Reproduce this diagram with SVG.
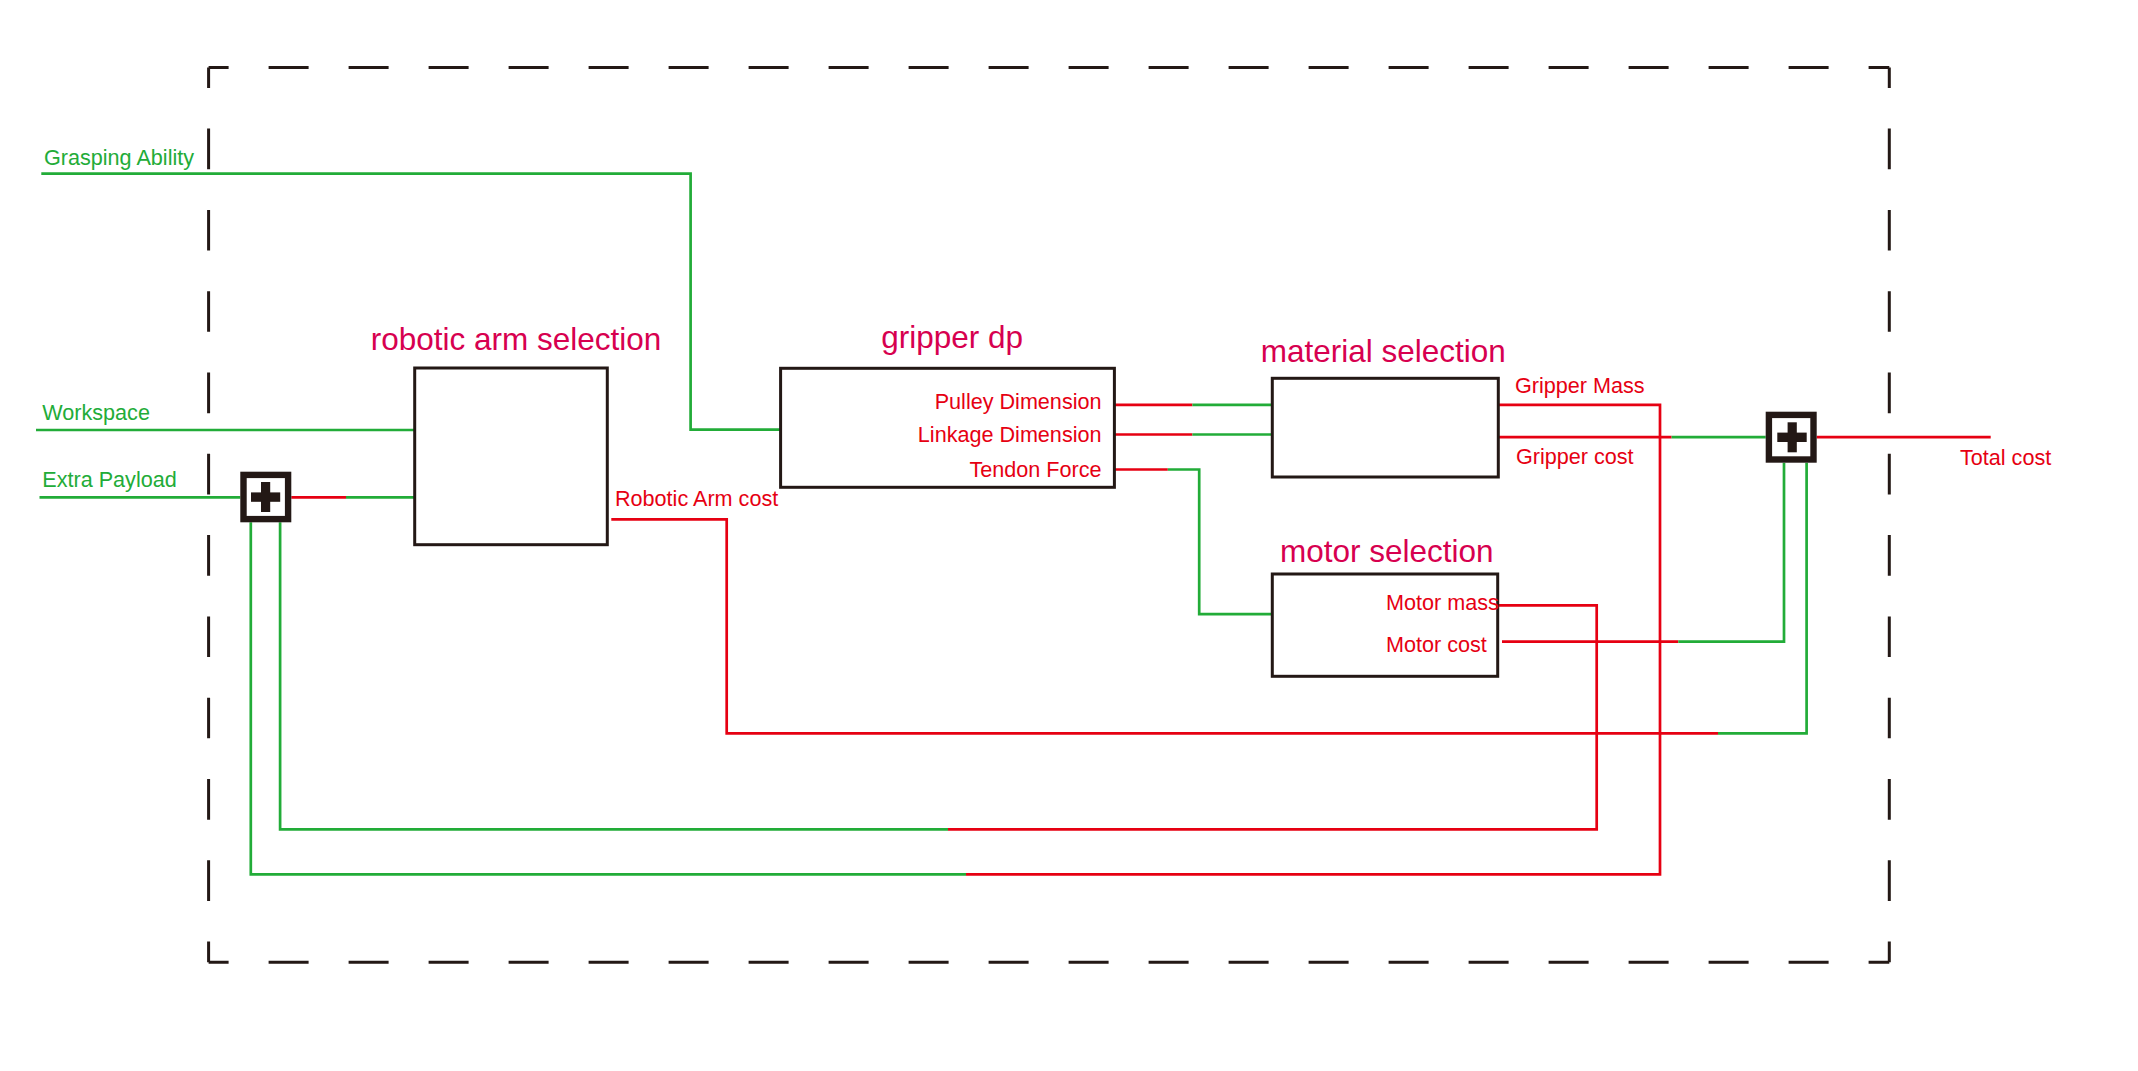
<svg xmlns="http://www.w3.org/2000/svg" width="2138" height="1071" viewBox="0 0 2138 1071">
<style>
  .frame { fill: none; stroke: #231815; stroke-width: 3; }
  .box { fill: #ffffff; stroke: #231815; stroke-width: 3; }
  .g { fill: none; stroke: #22ac38; stroke-width: 2.7; }
  .r { fill: none; stroke: #e60012; stroke-width: 2.7; }
  .title { font-family: "Liberation Sans", Arial, sans-serif; font-size: 31.5px; fill: #d7004f; }
  .lbl { font-family: "Liberation Sans", Arial, sans-serif; font-size: 21.6px; fill: #e60012; }
  .in { font-family: "Liberation Sans", Arial, sans-serif; font-size: 21.6px; fill: #22ac38; }
  .sumbox { fill: #ffffff; stroke: #231815; stroke-width: 6.4; }
  .plus { fill: #231815; }
</style>
<rect width="2138" height="1071" fill="#ffffff"/>

<g id="frame">
  <line class="frame" x1="208.6" y1="67.6" x2="1889.3" y2="67.6" stroke-dasharray="40 40" stroke-dashoffset="20"/>
  <line class="frame" x1="208.6" y1="962.2" x2="1889.3" y2="962.2" stroke-dasharray="40 40" stroke-dashoffset="20"/>
  <line class="frame" x1="208.6" y1="67.6" x2="208.6" y2="962.2" stroke-dasharray="40.65 40.65" stroke-dashoffset="20.3"/>
  <line class="frame" x1="1889.3" y1="67.6" x2="1889.3" y2="962.2" stroke-dasharray="40.65 40.65" stroke-dashoffset="20.3"/>
</g>

<g id="connectors">
  <!-- inputs -->
  <polyline class="g" points="41.3,173.7 690.6,173.7 690.6,429.6 780.6,429.6"/>
  <line class="g" x1="36" y1="430" x2="414.7" y2="430"/>
  <line class="g" x1="39.5" y1="497.3" x2="240.3" y2="497.3"/>
  <line class="r" x1="291.3" y1="497.3" x2="346" y2="497.3"/>
  <line class="g" x1="346" y1="497.3" x2="414.7" y2="497.3"/>
  <!-- robotic arm cost to sum2 -->
  <polyline class="r" points="611.3,519.3 726.7,519.3 726.7,733.3 1718,733.3"/>
  <polyline class="g" points="1718,733.3 1806.6,733.3 1806.6,462.7"/>
  <!-- gripper dp outputs -->
  <line class="r" x1="1114.7" y1="404.8" x2="1192.4" y2="404.8"/>
  <line class="g" x1="1192.4" y1="404.8" x2="1272.3" y2="404.8"/>
  <line class="r" x1="1114.7" y1="434.5" x2="1192.4" y2="434.5"/>
  <line class="g" x1="1192.4" y1="434.5" x2="1272.3" y2="434.5"/>
  <line class="r" x1="1114.7" y1="469.5" x2="1167.8" y2="469.5"/>
  <polyline class="g" points="1167.8,469.5 1199.2,469.5 1199.2,614.2 1272.3,614.2"/>
  <!-- gripper mass feedback -->
  <polyline class="r" points="1498.3,404.8 1660,404.8 1660,874.3 966,874.3"/>
  <polyline class="g" points="966,874.3 250.8,874.3 250.8,522.3"/>
  <!-- gripper cost -->
  <line class="r" x1="1498.3" y1="437.2" x2="1671.6" y2="437.2"/>
  <line class="g" x1="1671.6" y1="437.2" x2="1765.7" y2="437.2"/>
  <!-- total cost -->
  <line class="r" x1="1816.7" y1="437.2" x2="1990.7" y2="437.2"/>
  <!-- motor mass feedback -->
  <polyline class="r" points="1497.7,605.3 1596.7,605.3 1596.7,829.3 948,829.3"/>
  <polyline class="g" points="948,829.3 280.1,829.3 280.1,522.3"/>
  <!-- motor cost -->
  <line class="r" x1="1502" y1="641.7" x2="1678.3" y2="641.7"/>
  <polyline class="g" points="1678.3,641.7 1784,641.7 1784,462.7"/>
</g>

<g id="input-labels">
  <text class="in" x="44" y="165">Grasping Ability</text>
  <text class="in" x="42.3" y="420">Workspace</text>
  <text class="in" x="42.3" y="487.4">Extra Payload</text>
</g>

<g id="sum1">
  <rect class="sumbox" x="243.5" y="474.9" width="44.6" height="44.2"/>
  <rect class="plus" x="251" y="492.4" width="29.2" height="9.4"/>
  <rect class="plus" x="261" y="482" width="9.2" height="30"/>
</g>

<g id="robotic-arm-selection">
  <text class="title" x="370.7" y="350">robotic arm selection</text>
  <rect class="box" x="414.7" y="368" width="192.6" height="176.7"/>
  <text class="lbl" x="615" y="506">Robotic Arm cost</text>
</g>

<g id="gripper-dp">
  <text class="title" x="881.3" y="348.3">gripper dp</text>
  <rect class="box" x="780.6" y="368.3" width="333.8" height="119"/>
  <text class="lbl" x="1101.5" y="409" text-anchor="end">Pulley Dimension</text>
  <text class="lbl" x="1101.5" y="441.7" text-anchor="end">Linkage Dimension</text>
  <text class="lbl" x="1101.5" y="476.7" text-anchor="end">Tendon Force</text>
</g>

<g id="material-selection">
  <text class="title" x="1260.7" y="361.7">material selection</text>
  <rect class="box" x="1272.3" y="378.3" width="226" height="98.7"/>
  <text class="lbl" x="1515" y="392.7">Gripper Mass</text>
  <text class="lbl" x="1516" y="464.3">Gripper cost</text>
</g>

<g id="motor-selection">
  <text class="title" x="1280" y="561.7">motor selection</text>
  <rect class="box" x="1272.3" y="574" width="225.4" height="102.3"/>
  <text class="lbl" x="1386" y="609.5">Motor mass</text>
  <text class="lbl" x="1386" y="652.3">Motor cost</text>
</g>

<g id="sum2">
  <rect class="sumbox" x="1768.9" y="414.9" width="44.6" height="44.6"/>
  <rect class="plus" x="1777.3" y="432.6" width="29.4" height="9.4"/>
  <rect class="plus" x="1787.6" y="422.3" width="9.2" height="30"/>
</g>

<g id="output-label">
  <text class="lbl" x="1960" y="465">Total cost</text>
</g>
</svg>
